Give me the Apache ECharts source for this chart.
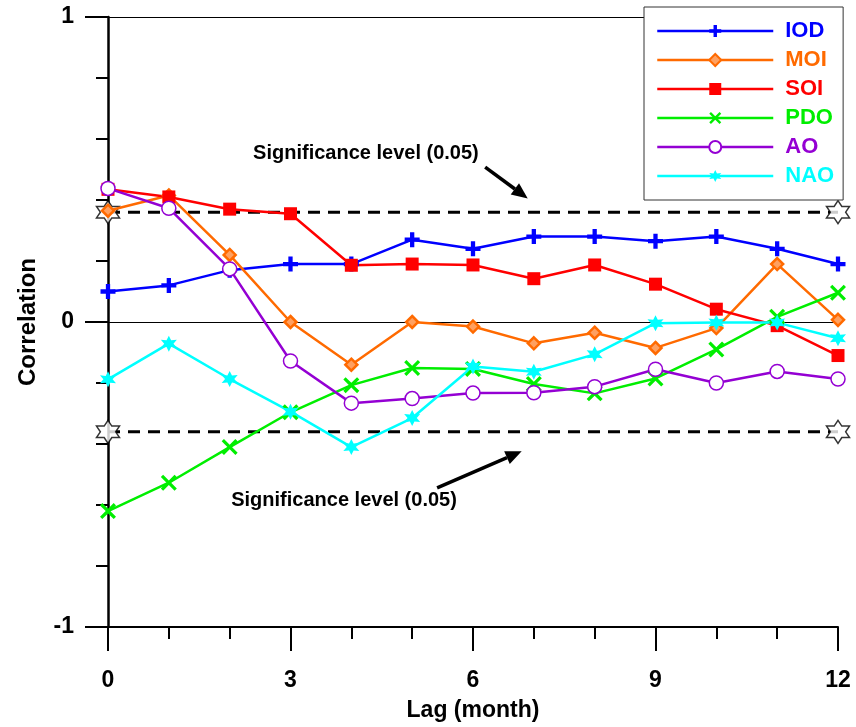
<!DOCTYPE html>
<html>
<head>
<meta charset="utf-8">
<script src="https://cdn.jsdelivr.net/npm/echarts@6/dist/echarts.min.js"></script>
<style>
  html, body { margin: 0; padding: 0; background: #fff; }
  #chart { width: 856px; height: 727px; }
</style>
</head>
<body>
<div id="chart"></div>
<script>
// lag (month) and correlation of each index
var lags = [0, 1, 2, 3, 4, 5, 6, 7, 8, 9, 10, 11, 12];
var iod = [0.10, 0.12, 0.17, 0.19, 0.19, 0.27, 0.24, 0.28, 0.28, 0.265, 0.28, 0.24, 0.19];
var moi = [0.365, 0.415, 0.22, 0.0, -0.14, 0.0, -0.015, -0.07, -0.035, -0.085, -0.02, 0.19, 0.007];
var soi = [0.435, 0.41, 0.37, 0.355, 0.186, 0.19, 0.187, 0.142, 0.187, 0.124, 0.042, -0.012, -0.11];
var pdo = [-0.62, -0.527, -0.41, -0.296, -0.207, -0.151, -0.154, -0.203, -0.234, -0.185, -0.09, 0.017, 0.096];
var ao = [0.438, 0.373, 0.174, -0.128, -0.266, -0.251, -0.233, -0.232, -0.212, -0.155, -0.2, -0.162, -0.187];
var nao = [-0.188, -0.071, -0.187, -0.294, -0.41, -0.315, -0.146, -0.163, -0.106, -0.004, -0.002, -0.002, -0.053];
var sigLevel = 0.36;
var sigLabel = 'Significance level (0.05)';

var FONT = '"Liberation Sans", Arial, sans-serif';

// star outline path (n points)
function starPath(n, inner) {
  var pts = [];
  for (var i = 0; i < n * 2; i++) {
    var r = i % 2 === 0 ? 10 : 10 * inner;
    var a = (-90 + i * 180 / n) * Math.PI / 180;
    pts.push((10 + r * Math.cos(a)).toFixed(2) + ',' + (10 + r * Math.sin(a)).toFixed(2));
  }
  return 'path://M' + pts.join('L') + 'Z';
}

var plusSym = 'path://M5,0H9V5H14V9H9V14H5V9H0V5H5Z';
var crossSym = 'path://M0,2L2,0L7,5L12,0L14,2L9,7L14,12L12,14L7,9L2,14L0,12L5,7Z';

function pairs(vals) {
  return lags.map(function (l, i) { return [l, vals[i]]; });
}

function mkSeries(name, vals, color, symbol, size, itemStyle) {
  return {
    name: name,
    type: 'line',
    data: pairs(vals),
    symbol: symbol,
    symbolSize: size,
    showAllSymbol: true,
    lineStyle: { color: color, width: 2.5 },
    itemStyle: itemStyle || { color: color },
    emphasis: { disabled: true },
    z: 5
  };
}

var colors = {
  IOD: '#0000ff', MOI: '#ff6a00', SOI: '#ff0000',
  PDO: '#00ee00', AO: '#9400d3', NAO: '#00ffff'
};

var chart = echarts.init(document.getElementById('chart'));

var option = {
  animation: false,
  backgroundColor: '#fff',
  grid: { left: 108, right: 18, top: 17, bottom: 100, containLabel: false },
  legend: {
    orient: 'vertical',
    left: 644,
    top: 7,
    padding: [12, 9, 12, 12],
    itemWidth: 116,
    itemHeight: 15,
    itemGap: 5,
    backgroundColor: '#fff',
    borderColor: '#333',
    borderWidth: 1,
    borderRadius: 0,
    lineStyle: { width: 2.5 },
    textStyle: { fontFamily: FONT, fontWeight: 'bold', fontSize: 22, padding: [0, 0, 0, 7], lineHeight: 24 },
    data: ['IOD', 'MOI', 'SOI', 'PDO', 'AO', 'NAO'].map(function (n) {
      return { name: n, textStyle: { color: colors[n] } };
    })
  },
  xAxis: {
    type: 'value',
    min: 0, max: 12, interval: 3,
    name: 'Lag (month)',
    nameLocation: 'middle',
    nameGap: 72,
    nameTextStyle: { fontFamily: FONT, fontWeight: 'bold', fontSize: 23, color: '#000' },
    axisLine: { onZero: false, lineStyle: { color: '#000', width: 2 } },
    axisTick: { length: 24, lineStyle: { color: '#000', width: 2 } },
    minorTick: { show: true, splitNumber: 3, length: 12, lineStyle: { color: '#000', width: 2 } },
    axisLabel: { margin: 42, fontFamily: FONT, fontWeight: 'bold', fontSize: 23, color: '#000' },
    splitLine: { show: false }
  },
  yAxis: {
    type: 'value',
    min: -1, max: 1, interval: 1,
    name: 'Correlation',
    nameLocation: 'middle',
    nameGap: 68,
    nameRotate: 90,
    nameTextStyle: { fontFamily: FONT, fontWeight: 'bold', fontSize: 24, color: '#000' },
    axisLine: { onZero: false, lineStyle: { color: '#000', width: 2.5 } },
    axisTick: { length: 23, lineStyle: { color: '#000', width: 2 } },
    minorTick: { show: true, splitNumber: 5, length: 12, lineStyle: { color: '#000', width: 2 } },
    axisLabel: { margin: 34, fontFamily: FONT, fontWeight: 'bold', fontSize: 23, color: '#000' },
    splitLine: { show: true, lineStyle: { color: '#000', width: 1.2 } }
  },
  series: [
    {
      name: 'sigUp', type: 'line', data: [[0, sigLevel], [12, sigLevel]],
      symbol: 'none', lineStyle: { color: '#000', width: 3, type: [12, 8] },
      emphasis: { disabled: true }, z: 2
    },
    {
      name: 'sigDown', type: 'line', data: [[0, -sigLevel], [12, -sigLevel]],
      symbol: 'none', lineStyle: { color: '#000', width: 3, type: [12, 8] },
      emphasis: { disabled: true }, z: 2
    },
    {
      name: 'sigStars', type: 'scatter',
      data: [[0, sigLevel], [12, sigLevel], [0, -sigLevel], [12, -sigLevel]],
      symbol: starPath(6, 0.577), symbolSize: 23,
      itemStyle: { color: '#fff', borderColor: '#000', borderWidth: 1.5 },
      emphasis: { disabled: true }, z: 3
    },
    mkSeries('IOD', iod, colors.IOD, plusSym, 15),
    mkSeries('MOI', moi, colors.MOI, 'diamond', 12,
      { color: '#ffa060', borderColor: colors.MOI, borderWidth: 2.5 }),
    mkSeries('SOI', soi, colors.SOI, 'rect', 13),
    mkSeries('PDO', pdo, colors.PDO, crossSym, 16),
    mkSeries('AO', ao, colors.AO, 'circle', 14,
      { color: '#fff', borderColor: colors.AO, borderWidth: 1.5 }),
    mkSeries('NAO', nao, colors.NAO, starPath(6, 0.5), 16)
  ]
};

chart.setOption(option);

// annotations: text + arrow placed in data coordinates
function px(p) { return chart.convertToPixel({ gridIndex: 0 }, p); }

function arrow(from, to) {
  var a = px(from), b = px(to);
  var ang = Math.atan2(b[1] - a[1], b[0] - a[0]);
  var hl = 16, hw = 7;
  var bx = b[0] - hl * Math.cos(ang), by = b[1] - hl * Math.sin(ang);
  return [
    { type: 'line', shape: { x1: a[0], y1: a[1], x2: bx, y2: by }, style: { stroke: '#000', lineWidth: 3.5 }, z: 20 },
    { type: 'polygon', shape: { points: [
      [b[0], b[1]],
      [bx + hw * Math.sin(ang), by - hw * Math.cos(ang)],
      [bx - hw * Math.sin(ang), by + hw * Math.cos(ang)]
    ] }, style: { fill: '#000' }, z: 20 }
  ];
}

function label(p) {
  var c = px(p);
  return {
    type: 'text', x: c[0], y: c[1], z: 20,
    style: { text: sigLabel, fill: '#000', font: 'bold 20px ' + FONT, align: 'center', verticalAlign: 'middle' }
  };
}

chart.setOption({
  graphic: [label([4.24, 0.554]), label([3.88, -0.584])]
    .concat(arrow([6.2, 0.508], [6.9, 0.405]))
    .concat(arrow([5.41, -0.544], [6.8, -0.424]))
});
</script>
</body>
</html>
